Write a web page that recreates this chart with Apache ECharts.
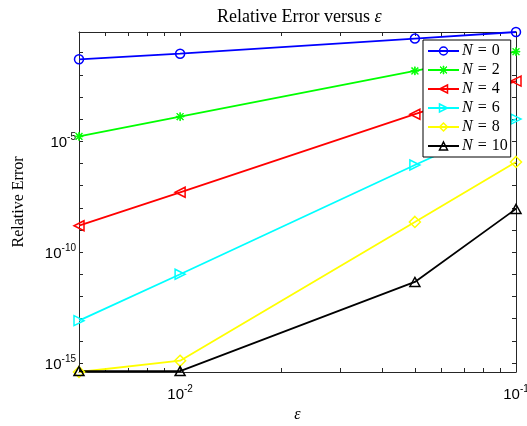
<!DOCTYPE html>
<html style="height: 100%">
<head>
    <meta charset="utf-8">
    <title>Relative Error versus epsilon</title>
    <script src="https://cdn.jsdelivr.net/npm/echarts/dist/echarts.min.js"></script>
</head>
<body style="height: 100%; margin: 0; background: #fff">
    <div id="main" style="width: 527px; height: 426px"></div>
    <script type="text/javascript">
        // epsilon values (x)
        var eps = [0.005, 0.01, 0.05, 0.1];

        // relative error for each N
        var errN0 = [0.05, 0.089, 0.43, 0.85];
        var errN2 = [1.66e-5, 1.29e-4, 0.015, 0.11];
        var errN4 = [1.55e-9, 5.0e-8, 1.66e-4, 5.2e-3];
        var errN6 = [8.1e-14, 1.0e-11, 8.5e-7, 1.0e-4];
        var errN8 = [3.9e-16, 1.26e-15, 2.3e-9, 1.17e-6];
        var errN10 = [4.3e-16, 4.3e-16, 4.5e-12, 8.9e-9];

        var seriesNames = ['N = 0', 'N = 2', 'N = 4', 'N = 6', 'N = 8', 'N = 10'];
        var colors = ['#0000ff', '#00ff00', '#ff0000', '#00ffff', '#ffff00', '#000000'];

        // tick positions
        var xMinorTicks = [0.005, 0.006, 0.007, 0.008, 0.009, 0.01, 0.02, 0.03, 0.04, 0.05, 0.06, 0.07, 0.08, 0.09, 0.1];
        var xLabelTicks = [0.01, 0.1];
        var yMinorTicks = [1e-15, 1e-14, 1e-13, 1e-12, 1e-11, 1e-10, 1e-9, 1e-8, 1e-7, 1e-6, 1e-5, 1e-4, 1e-3, 1e-2, 1e-1];
        var yLabelTicks = [1e-15, 1e-10, 1e-5];

        var myChart = echarts.init(document.getElementById('main'));

        var serif = '"Liberation Serif", "DejaVu Serif", serif';
        var sans = '"Liberation Sans", Arial, sans-serif';
        var axisColor = '#262626';

        function powLabel(v) {
            var e = Math.round(Math.log10(v));
            return '{b|10}{s|' + e + '}';
        }
        var powRich = {
            b: { fontSize: 15, fontFamily: sans, color: '#000', verticalAlign: 'bottom' },
            s: { fontSize: 10, fontFamily: sans, color: '#000', verticalAlign: 'bottom', padding: [0, 0, 8, 0] }
        };

        // marker shapes
        var asterisk = 'path://M4.5,0h1v10h-1z M0,4.5h10v1h-10z M0.6,1.3L1.3,0.6L9.4,8.7L8.7,9.4z M8.7,0.6L9.4,1.3L1.3,9.4L0.6,8.7z';
        var triLeft = 'path://M10,0L0,5L10,10z';
        var triRight = 'path://M0,0L10,5L0,10z';
        var triUp = 'path://M5,0L10,9L0,9z';
        var filledMarks = [false, true, false, false, false, false];

        function mkStyle(i) {
            return {
                color: filledMarks[i] ? colors[i] : 'rgba(255,255,255,0)',
                borderColor: colors[i],
                borderWidth: filledMarks[i] ? 0.8 : 1.5
            };
        }

        function mkSeries(i, data, symbol, size) {
            return {
                name: seriesNames[i],
                type: 'line',
                data: eps.map(function (x, k) { return [x, data[k]]; }),
                symbol: symbol,
                symbolSize: size,
                symbolKeepAspect: true,
                showAllSymbol: true,
                clip: false,
                lineStyle: { color: colors[i], width: 1.8 },
                itemStyle: mkStyle(i),
                emphasis: { disabled: true }
            };
        }

        var option = {
            animation: false,
            backgroundColor: '#fff',
            title: {
                text: 'Relative Error versus {e|ε}',
                left: 212,
                top: 3,
                textStyle: {
                    fontFamily: serif,
                    fontSize: 18,
                    fontWeight: 'normal',
                    color: '#000',
                    rich: { e: { fontFamily: serif, fontSize: 18, fontStyle: 'italic', color: '#000' } }
                }
            },
            legend: {
                data: seriesNames.map(function (n, i) {
                    return { name: n, itemStyle: mkStyle(i) };
                }),
                orient: 'vertical',
                left: 423,
                top: 40,
                padding: [3, 3, 3, 4],
                itemWidth: 31,
                itemHeight: 10,
                itemGap: 3,
                backgroundColor: '#fff',
                borderColor: '#000',
                borderWidth: 1,
                borderRadius: 0,
                formatter: function (name) {
                    return '{i|N}{q|=}' + name.split('= ')[1];
                },
                textStyle: {
                    fontFamily: serif,
                    fontSize: 16,
                    lineHeight: 15,
                    color: '#000',
                    padding: [0, 0, 0, -2],
                    rich: {
                        i: { fontFamily: serif, fontSize: 16, fontStyle: 'italic', color: '#000' },
                        q: { fontFamily: serif, fontSize: 16, color: '#000', padding: [0, 5, 0, 5] }
                    }
                }
            },
            grid: {
                left: 79,
                right: 11,
                top: 32,
                bottom: 54,
                outerBoundsMode: 'none'
            },
            xAxis: [{
                type: 'log',
                logBase: 10,
                min: 0.005,
                max: 0.1,
                position: 'bottom',
                name: 'ε',
                nameLocation: 'middle',
                nameGap: 34,
                nameTextStyle: { fontFamily: serif, fontStyle: 'italic', fontSize: 16, color: '#000' },
                axisLine: { lineStyle: { color: axisColor, width: 1 } },
                axisTick: { inside: true, length: 4, customValues: xMinorTicks, lineStyle: { color: axisColor } },
                axisLabel: { customValues: xLabelTicks, margin: 12, formatter: powLabel, rich: powRich },
                splitLine: { show: false }
            }, {
                type: 'log',
                logBase: 10,
                min: 0.005,
                max: 0.1,
                position: 'top',
                axisLine: { lineStyle: { color: axisColor, width: 1 } },
                axisTick: { inside: true, length: 4, customValues: xMinorTicks, lineStyle: { color: axisColor } },
                axisLabel: { show: false },
                splitLine: { show: false }
            }],
            yAxis: [{
                type: 'log',
                logBase: 10,
                min: 3.9e-16,
                max: 0.85,
                position: 'left',
                name: 'Relative Error',
                nameLocation: 'middle',
                nameGap: 52,
                nameRotate: 90,
                nameTextStyle: { fontFamily: serif, fontSize: 16, color: '#000' },
                axisLine: { lineStyle: { color: axisColor, width: 1 } },
                axisTick: { inside: true, length: 4, customValues: yMinorTicks, lineStyle: { color: axisColor } },
                axisLabel: { customValues: yLabelTicks, margin: 3, formatter: powLabel, rich: powRich },
                splitLine: { show: false }
            }, {
                type: 'log',
                logBase: 10,
                min: 3.9e-16,
                max: 0.85,
                position: 'right',
                axisLine: { lineStyle: { color: axisColor, width: 1 } },
                axisTick: { inside: true, length: 4, customValues: yMinorTicks, lineStyle: { color: axisColor } },
                axisLabel: { show: false },
                splitLine: { show: false }
            }],
            series: [
                mkSeries(0, errN0, 'circle', 9),
                mkSeries(1, errN2, asterisk, 8),
                mkSeries(2, errN4, triLeft, 10),
                mkSeries(3, errN6, triRight, 10),
                mkSeries(4, errN8, 'diamond', 11),
                mkSeries(5, errN10, triUp, 10)
            ]
        };

        myChart.setOption(option);
    </script>
</body>
</html>
